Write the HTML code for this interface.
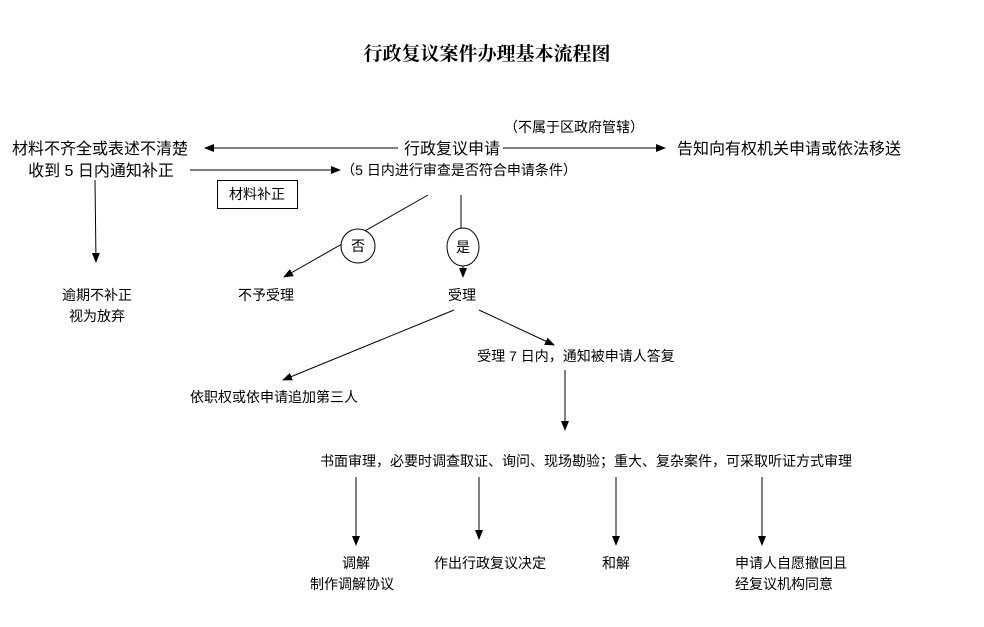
<!DOCTYPE html>
<html><head><meta charset="utf-8"><style>
html,body{margin:0;padding:0;background:#fff;}
svg{display:block;}
text{font-family:"Liberation Sans","Noto Sans CJK SC",sans-serif;fill:#000;}
</style></head><body>
<svg width="984" height="627" viewBox="0 0 984 627" xmlns="http://www.w3.org/2000/svg">
<defs><marker id="a" markerWidth="10" markerHeight="8" refX="9" refY="4" orient="auto" markerUnits="userSpaceOnUse"><path d="M0,0 L10,4 L0,8 z" fill="#000"/></marker></defs>
<text x="487" y="60" text-anchor="middle" font-size="19" font-weight="bold" style="font-family:'Liberation Serif','Noto Serif CJK SC',serif">行政复议案件办理基本流程图</text>
<g stroke="#000" stroke-width="1" fill="none">
<line x1="398" y1="148" x2="205" y2="148" marker-end="url(#a)"/>
<line x1="190" y1="170" x2="340" y2="170" marker-end="url(#a)"/>
<line x1="503" y1="148" x2="665" y2="148" marker-end="url(#a)"/>
<rect x="217.5" y="180.5" width="80" height="28"/>
<line x1="428" y1="195" x2="284" y2="277" marker-end="url(#a)"/>
<line x1="461" y1="195" x2="461" y2="228"/>
<line x1="463" y1="266" x2="463" y2="277" marker-end="url(#a)"/>
<line x1="95" y1="180" x2="96" y2="262" marker-end="url(#a)"/>
<line x1="454" y1="310" x2="283" y2="380" marker-end="url(#a)"/>
<line x1="479" y1="310" x2="554" y2="345" marker-end="url(#a)"/>
<line x1="565" y1="370" x2="565" y2="430" marker-end="url(#a)"/>
<line x1="356" y1="477" x2="356" y2="545" marker-end="url(#a)"/>
<line x1="479" y1="477" x2="479" y2="539" marker-end="url(#a)"/>
<line x1="616" y1="477" x2="616" y2="545" marker-end="url(#a)"/>
<line x1="762" y1="477" x2="762" y2="545" marker-end="url(#a)"/>
</g>
<circle cx="358" cy="246" r="17" fill="#fff" stroke="#000"/>
<ellipse cx="463" cy="247" rx="16" ry="19" fill="#fff" stroke="#000"/>
<text x="358" y="251" text-anchor="middle" font-size="14">否</text>
<text x="463" y="252" text-anchor="middle" font-size="14">是</text>
<text x="100" y="154" text-anchor="middle" font-size="16">材料不齐全或表述不清楚</text>
<text x="101" y="176" text-anchor="middle" font-size="16">收到 5 日内通知补正</text>
<text x="257" y="199" text-anchor="middle" font-size="14">材料补正</text>
<text x="452" y="154" text-anchor="middle" font-size="16">行政复议申请</text>
<text x="574" y="132" text-anchor="middle" font-size="14">（不属于区政府管辖）</text>
<text x="789" y="154" text-anchor="middle" font-size="16">告知向有权机关申请或依法移送</text>
<text x="459" y="175" text-anchor="middle" font-size="14">（5 日内进行审查是否符合申请条件）</text>
<text x="97" y="300" text-anchor="middle" font-size="14">逾期不补正</text>
<text x="97" y="321" text-anchor="middle" font-size="14">视为放弃</text>
<text x="266" y="300" text-anchor="middle" font-size="14">不予受理</text>
<text x="462" y="300" text-anchor="middle" font-size="14">受理</text>
<text x="576" y="361" text-anchor="middle" font-size="14">受理 7 日内，通知被申请人答复</text>
<text x="274" y="402" text-anchor="middle" font-size="14">依职权或依申请追加第三人</text>
<text x="586" y="466" text-anchor="middle" font-size="14">书面审理，必要时调查取证、询问、现场勘验；重大、复杂案件，可采取听证方式审理</text>
<text x="356" y="568" text-anchor="middle" font-size="14">调解</text>
<text x="352" y="589" text-anchor="middle" font-size="14">制作调解协议</text>
<text x="490" y="568" text-anchor="middle" font-size="14">作出行政复议决定</text>
<text x="616" y="568" text-anchor="middle" font-size="14">和解</text>
<text x="735" y="568" font-size="14">申请人自愿撤回且</text>
<text x="735" y="589" font-size="14">经复议机构同意</text>
</svg>
</body></html>
